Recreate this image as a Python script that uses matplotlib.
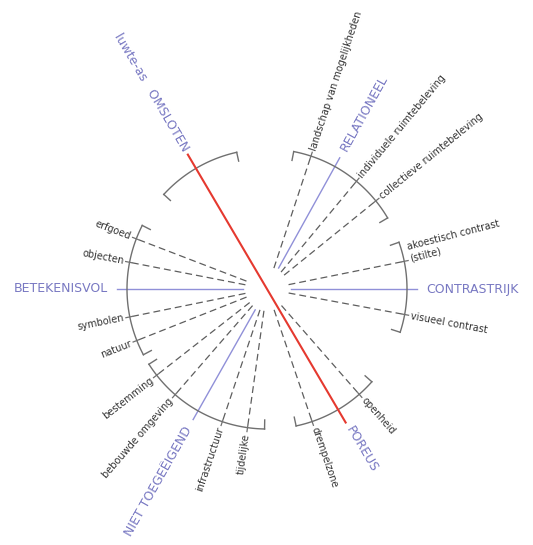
import numpy as np
import matplotlib
matplotlib.use("Agg")
import matplotlib.pyplot as plt

# main axes of the diagram (angle in degrees, 0 = right, counter-clockwise)
groups = ["RELATIONEEL", "CONTRASTRIJK", "POREUS", "NIET TOEGEËIGEND",
          "BETEKENISVOL", "luwte-as   OMSLOTEN"]
group_angles = [61, 0, -59.5, 240.5, 180, 120.5]
bracket_spans = [(30.5, 79), (-18, 19.5), (-78, -41.5), (212.5, 269),
                 (153, 208), (102.5, 137.5)]

sub_labels = [
    ["collectieve ruimtebeleving", "individuele ruimtebeleving",
     "landschap van mogelijkheden"],
    ["visueel contrast", "akoestisch contrast\n(stilte)"],
    ["drempelzone", "openheid"],
    ["bestemming", "bebouwde omgeving", "infrastructuur", "tijdelijke"],
    ["erfgoed", "objecten", "symbolen", "natuur"],
    [],
]
sub_angles = [
    [39, 50.3, 71.7],
    [-10.5, 11.4],
    [-71.2, -48.8],
    [218, 229, 251.4, 262],
    [159, 169, 191.5, 201.6],
    [],
]

BLUE_TXT = "#7878c2"
BLUE = "#9090d8"
RED = "#e5392f"
GREY = "#707070"
DASH = "#5e5e5e"
TXT = "#333333"

R0 = 24      # inner radius of the spokes
RB = 140     # bracket radius
RL = 150     # main line length
RED_R = 157


def pol(r, a):
    t = np.radians(a)
    return r * np.cos(t), r * np.sin(t)


def label(r, a, s, **kw):
    x, y = pol(r, a)
    c = np.cos(np.radians(a))
    if c >= 0:
        rot, ha = a, "left"
    else:
        rot, ha = a - 180, "right"
    ax.text(x, y, s, rotation=rot, rotation_mode="anchor", ha=ha,
            va="center", **kw)


fig = plt.figure(figsize=(5.33, 5.45), dpi=100)
ax = fig.add_axes([0, 0, 1, 1])
ax.set_xlim(-267, 266)
ax.set_ylim(-256, 289)
ax.axis("off")

# red luwte-as through the centre
x1, y1 = pol(RED_R, group_angles[5])
x2, y2 = pol(RED_R - 1, group_angles[2])
ax.plot([x1, x2], [y1, y2], color=RED, lw=1.5, solid_capstyle="butt", zorder=3)

for g, name in enumerate(groups):
    a = group_angles[g]
    # blue main spoke (the red axis is drawn above)
    if g not in (2, 5):
        xa, ya = pol(R0, a)
        xb, yb = pol(RL, a)
        ax.plot([xa, xb], [ya, yb], color=BLUE, lw=1.0)
    label(RED_R + 4 if g in (2, 5) else RL + 9, a, name, color=BLUE_TXT,
          fontsize=9)

    # bracket
    a0, a1 = bracket_spans[g]
    tt = np.linspace(a0, a1, 80)
    bx, by = pol(RB, tt)
    ax.plot(bx, by, color=GREY, lw=1.0)
    for ae in (a0, a1):
        xa, ya = pol(RB, ae)
        xb, yb = pol(RB - 9, ae)
        ax.plot([xa, xb], [ya, yb], color=GREY, lw=1.0)

    # dashed sub spokes
    for s, sa in zip(sub_labels[g], sub_angles[g]):
        xa, ya = pol(R0 - 2, sa)
        xb, yb = pol(RB, sa)
        ax.plot([xa, xb], [ya, yb], color=DASH, lw=0.9,
                linestyle=(0, (5.5, 3.2)))
        xa, ya = pol(RB - 2, sa)
        xb, yb = pol(RB + 4, sa)
        ax.plot([xa, xb], [ya, yb], color=GREY, lw=0.9)
        off = 3 if "\n" in s else 0
        label(RB + 6, sa + off, s, color=TXT, fontsize=7,
              linespacing=1.3)

fig.savefig("out.png", dpi=100, facecolor="white")
